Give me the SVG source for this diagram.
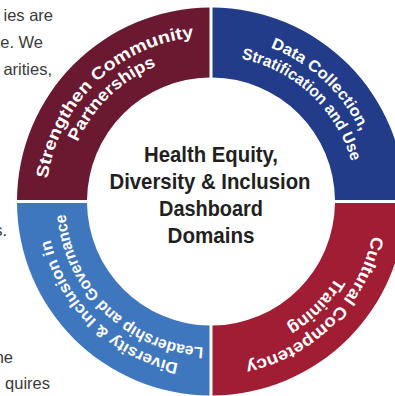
<svg xmlns="http://www.w3.org/2000/svg" xmlns:xlink="http://www.w3.org/1999/xlink" width="395" height="396" viewBox="0 0 395 396">
<style>
.bg{font-family:"Liberation Sans",Arial,sans-serif;font-size:16.5px;fill:#3a3a3a}
.ctr{font-family:"Liberation Sans",Arial,sans-serif;font-weight:bold;font-size:22px;fill:#231f20}
.arc{font-family:"Liberation Sans",Arial,sans-serif;font-weight:bold;fill:#ffffff}
</style>
<defs>
<path id="t1a" d="M46.40 213.01 A165 165 0 0 1 228.25 37.40"/>
<path id="t1b" d="M65.36 211.69 A146 146 0 0 1 226.26 56.30"/>
<path id="t2a" d="M190.89 37.73 A165 165 0 0 1 375.77 210.14"/>
<path id="t2b" d="M193.21 56.59 A146 146 0 0 1 356.80 209.14"/>
<path id="t3a" d="M228.25 365.60 A165 165 0 0 1 46.40 189.99"/>
<path id="t3b" d="M226.26 346.70 A146 146 0 0 1 65.36 191.31"/>
<path id="t4a" d="M375.37 187.12 A165 165 0 0 1 196.62 365.87"/>
<path id="t4b" d="M356.44 188.77 A146 146 0 0 1 198.27 346.94"/>
</defs>
<rect width="395" height="396" fill="#ffffff"/>
<g id="background-text" class="bg">
<text x="53" y="21" text-anchor="end">ies are</text>
<text x="43" y="48" text-anchor="end">e. We</text>
<text x="52" y="75" text-anchor="end">arities,</text>
<text x="7" y="236" text-anchor="end">s.</text>
<text x="13" y="363" text-anchor="end">ne</text>
<text x="50" y="389" text-anchor="end">quires</text>
</g>
<g id="q1-strengthen-community">
<path d="M17.006 200 A194 194 0 0 1 209.5 7.506 L209.5 77.509 A124 124 0 0 0 87.009 200 Z" fill="#6a1931"/>
<text class="arc" font-size="17"><textPath xlink:href="#t1a" href="#t1a" startOffset="50%" text-anchor="middle" textLength="219" lengthAdjust="spacingAndGlyphs">Strengthen Community</textPath></text>
<text class="arc" font-size="17"><textPath xlink:href="#t1b" href="#t1b" startOffset="50%" text-anchor="middle" textLength="112" lengthAdjust="spacingAndGlyphs">Partnerships</textPath></text>
</g>
<g id="q2-data-collection">
<path d="M212.5 7.506 A194 194 0 0 1 404.994 200 L334.991 200 A124 124 0 0 0 212.5 77.509 Z" fill="#233c89"/>
<text class="arc" font-size="16"><textPath xlink:href="#t2a" href="#t2a" startOffset="50%" text-anchor="middle" textLength="126" lengthAdjust="spacingAndGlyphs">Data Collection,</textPath></text>
<text class="arc" font-size="16"><textPath xlink:href="#t2b" href="#t2b" startOffset="50%" text-anchor="middle" textLength="158" lengthAdjust="spacingAndGlyphs">Stratification and Use</textPath></text>
</g>
<g id="q3-diversity-inclusion">
<path d="M17.006 203 L87.009 203 A124 124 0 0 0 209.5 325.491 L209.5 395.494 A194 194 0 0 1 17.006 203 Z" fill="#3f77bf"/>
<text class="arc" font-size="16"><textPath xlink:href="#t3a" href="#t3a" startOffset="50%" text-anchor="middle" textLength="188" lengthAdjust="spacingAndGlyphs">Diversity &amp; Inclusion in</textPath></text>
<text class="arc" font-size="16"><textPath xlink:href="#t3b" href="#t3b" startOffset="50%" text-anchor="middle" textLength="209" lengthAdjust="spacingAndGlyphs">Leadership and Governance</textPath></text>
</g>
<g id="q4-cultural-competency">
<path d="M404.994 203 A194 194 0 0 1 212.5 395.494 L212.5 325.491 A124 124 0 0 0 334.991 203 Z" fill="#a01d34"/>
<text class="arc" font-size="17"><textPath xlink:href="#t4a" href="#t4a" startOffset="50%" text-anchor="middle" textLength="190" lengthAdjust="spacingAndGlyphs">Cultural Competency</textPath></text>
<text class="arc" font-size="17"><textPath xlink:href="#t4b" href="#t4b" startOffset="50%" text-anchor="middle" textLength="70" lengthAdjust="spacingAndGlyphs">Training</textPath></text>
</g>
<g id="center-title" class="ctr" text-anchor="middle">
<text x="211" y="162" textLength="134" lengthAdjust="spacingAndGlyphs">Health Equity,</text>
<text x="210" y="189" textLength="201" lengthAdjust="spacingAndGlyphs">Diversity &amp; Inclusion</text>
<text x="211" y="216" textLength="104" lengthAdjust="spacingAndGlyphs">Dashboard</text>
<text x="211" y="243" textLength="87" lengthAdjust="spacingAndGlyphs">Domains</text>
</g>
<g id="connectors"/>
</svg>
